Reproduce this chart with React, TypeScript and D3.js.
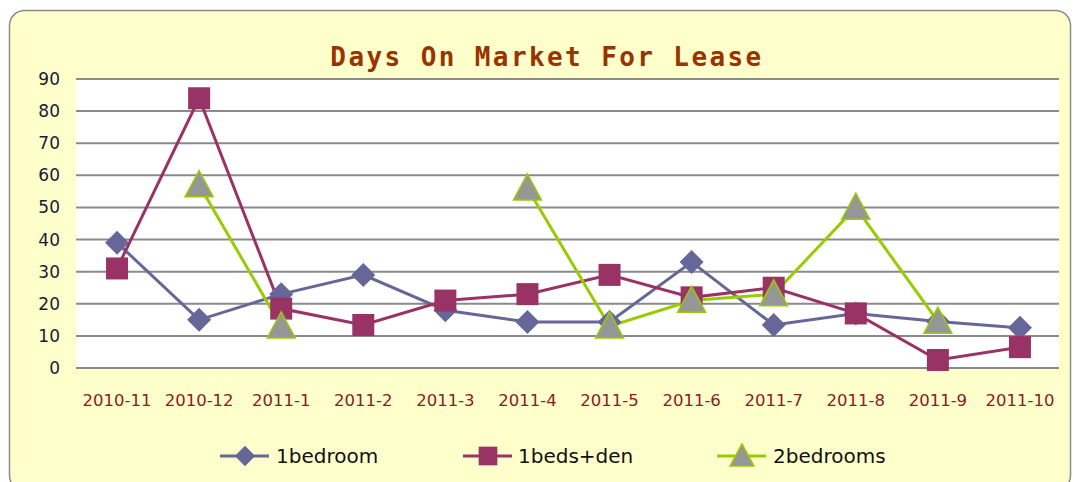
import React from "react";
import * as d3 from "d3";

const categories = ["2010-11", "2010-12", "2011-1", "2011-2", "2011-3", "2011-4", "2011-5", "2011-6", "2011-7", "2011-8", "2011-9", "2011-10"];
const oneBedroom: (number | null)[] = [39, 15, 23, 29, 18, 14.3, 14.3, 33, 13.4, 17, 14.5, 12.5];
const oneBedsDen: (number | null)[] = [31, 84, 18.5, 13.4, 21, 23, 29, 22, 25, 17, 2.5, 6.5];
const twoBedrooms: (number | null)[] = [null, 57, 13, null, null, 56, 13, 21, 23, 50, 14.5, null];
const yTicks = [0, 10, 20, 30, 40, 50, 60, 70, 80, 90];
const title = "Days On Market For Lease";

const series = [
  { name: "1bedroom", values: oneBedroom, color: "#666699", marker: "diamond" },
  { name: "1beds+den", values: oneBedsDen, color: "#993366", marker: "square" },
  { name: "2bedrooms", values: twoBedrooms, color: "#99CC00", marker: "triangle" },
];

const W = 1074, H = 482;
const plot = { left: 76, right: 1059, top: 79, bottom: 368 };

function Marker({ type, x, y, color, s = 1 }: { type: string; x: number; y: number; color: string; s?: number }) {
  if (type === "diamond") {
    const r = 12 * s;
    return <path d={`M${x},${y - r}L${x + r},${y}L${x},${y + r}L${x - r},${y}Z`} fill={color} />;
  }
  if (type === "square") {
    const r = 11 * s;
    return <rect x={x - r} y={y - r} width={2 * r} height={2 * r} fill={color} />;
  }
  const w = 14 * s, h = 26 * s;
  return (
    <path
      d={`M${x},${y - h * 0.55}L${x + w},${y + h * 0.45}L${x - w},${y + h * 0.45}Z`}
      fill="#969696"
      stroke={color}
      strokeWidth={1.5}
    />
  );
}

export default function App() {
  const x = d3.scaleBand<string>().domain(categories).range([plot.left, plot.right + 2]);
  const y = d3.scaleLinear().domain([0, 90]).range([plot.bottom, plot.top]);
  const cx = (c: string) => (x(c) as number) + x.bandwidth() / 2;
  const line = d3
    .line<[string, number | null]>()
    .defined((d) => d[1] !== null)
    .x((d) => cx(d[0]))
    .y((d) => y(d[1] as number));

  const legendItems = [
    { lx: 220, tx: 276 },
    { lx: 463, tx: 518 },
    { lx: 717, tx: 773 },
  ];

  return (
    <svg width={W} height={H} style={{ position: "absolute", left: 0, top: 0 }} fontFamily="Tahoma, 'DejaVu Sans', sans-serif">
      <rect x={0} y={0} width={W} height={H} fill="#ffffff" />
      <rect x={9.5} y={10.5} width={1061} height={480} rx={15} fill="#FFFFCC" stroke="#8c8c8c" strokeWidth={1.5} />
      <text
        x={547}
        y={66}
        textAnchor="middle"
        fontFamily="'DejaVu Sans Mono', 'Liberation Mono', monospace"
        fontWeight="bold"
        fontSize={26}
        letterSpacing={2.4}
        fill="#993300"
      >
        {title}
      </text>
      <rect x={plot.left} y={plot.top} width={plot.right - plot.left} height={plot.bottom - plot.top} fill="#ffffff" />
      {yTicks.map((t) => (
        <g key={t}>
          <line x1={plot.left} x2={plot.right} y1={y(t)} y2={y(t)} stroke="#8a8a8a" strokeWidth={2} />
          <text x={60} y={y(t) + 6} textAnchor="end" fontSize={17} fill="#1a1a33">
            {t}
          </text>
        </g>
      ))}
      {categories.map((c) => (
        <text key={c} x={cx(c)} y={406} textAnchor="middle" fontSize={16.5} fill="#8B2020">
          {c}
        </text>
      ))}
      {series.map((s) => {
        const pts = categories.map((c, i) => [c, s.values[i]] as [string, number | null]);
        return (
          <g key={s.name}>
            <path d={line(pts) || ""} fill="none" stroke={s.color} strokeWidth={3} />
          </g>
        );
      })}
      {series.map((s) => (
        <g key={s.name + "m"}>
          {categories.map((c, i) =>
            s.values[i] === null ? null : (
              <Marker key={c} type={s.marker} x={cx(c)} y={y(s.values[i] as number)} color={s.color} />
            )
          )}
        </g>
      ))}
      {series.map((s, i) => {
        const it = legendItems[i];
        const ly = 456;
        return (
          <g key={s.name + "l"}>
            <line x1={it.lx} x2={it.lx + 49} y1={ly} y2={ly} stroke={s.color} strokeWidth={3} />
            <Marker type={s.marker} x={it.lx + 25} y={ly} color={s.color} s={0.85} />
            <text x={it.tx} y={ly + 7} fontSize={20} fill="#111">
              {s.name}
            </text>
          </g>
        );
      })}
    </svg>
  );
}
